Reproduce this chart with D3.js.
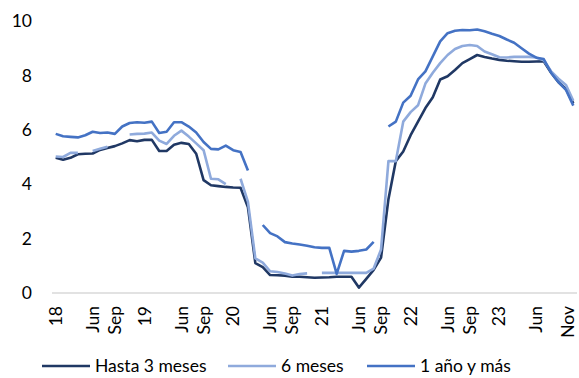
<!DOCTYPE html>
<html>
<head>
<meta charset="utf-8">
<script src="https://cdn.jsdelivr.net/npm/d3@7"></script>
<style>
  html, body { margin: 0; padding: 0; background: #fff; }
  svg { display: block; font-family: Lato, "Open Sans", sans-serif; }
</style>
</head>
<body>
<svg id="chart" width="579" height="378"></svg>
<script>
// Monthly categories, Jan 2018 – Nov 2023
const months = d3.timeMonth.range(new Date(2018, 0, 1), new Date(2023, 11, 1))
  .map(d3.timeFormat("%Y-%m"));

// Axis labels and the months they sit on
const tickMonths = ["2018-01","2018-06","2018-09","2019-01","2019-06","2019-09",
  "2020-01","2020-06","2020-09","2021-01","2021-06","2021-09",
  "2022-01","2022-06","2022-09","2023-01","2023-06","2023-11"];
const tickLabels = ["18","Jun","Sep","19","Jun","Sep","20","Jun","Sep",
  "21","Jun","Sep","22","Jun","Sep","23","Jun","Nov"];
const yTicks = [0, 2, 4, 6, 8, 10];

// Series (null = no data)
const hasta3 = [
  4.97,4.90,4.97,5.10,5.12,5.13,5.26,5.33,5.40,5.50,
  5.62,5.58,5.63,5.63,5.22,5.22,5.45,5.52,5.48,5.12,
  4.15,3.96,3.93,3.90,3.88,3.87,3.15,1.10,0.95,0.66,
  0.65,0.64,0.60,0.60,0.58,0.56,0.57,0.58,0.60,0.60,
  0.60,0.20,0.52,0.85,1.30,3.45,4.85,5.20,5.80,6.30,
  6.80,7.20,7.85,7.97,8.20,8.45,8.60,8.75,8.68,8.62,
  8.57,8.54,8.52,8.50,8.50,8.51,8.52,8.10,7.75,7.50,6.97];
const meses6 = [
  5.02,5.00,5.15,5.15,null,5.22,5.30,5.38,null,null,
  5.83,5.85,5.86,5.90,5.60,5.48,5.78,5.97,5.75,5.50,
  5.25,4.20,4.18,4.00,null,4.20,3.35,1.27,1.12,0.80,
  0.77,0.72,0.64,0.70,0.72,null,0.74,0.74,0.74,0.74,
  0.74,0.74,0.74,0.90,1.60,4.85,4.85,6.30,6.65,6.90,
  7.70,8.10,8.45,8.75,8.97,9.08,9.12,9.08,8.88,8.78,
  8.67,8.66,8.68,8.68,8.68,8.66,8.56,8.15,7.88,7.65,7.07];
const anio1 = [
  5.85,5.76,5.74,5.72,5.80,5.93,5.88,5.90,5.85,6.12,
  6.25,6.28,6.26,6.30,5.88,5.93,6.28,6.28,6.12,5.90,
  5.55,5.30,5.28,5.42,5.25,5.18,4.50,null,2.50,2.20,
  2.08,1.87,1.82,1.78,1.74,1.68,1.66,1.66,0.70,1.55,
  1.52,1.55,1.60,1.88,null,6.12,6.30,7.00,7.25,7.85,
  8.15,8.70,9.25,9.55,9.64,9.67,9.66,9.69,9.62,9.53,
  9.45,9.32,9.20,9.00,8.80,8.65,8.60,8.10,7.75,7.47,6.89];

const seriesNames = ["Hasta 3 meses", "6 meses", "1 año y más"];
const seriesColors = ["#203864", "#8FAADC", "#4472C4"];
const seriesData = [hasta3, meses6, anio1];

const W = 579;
const svg = d3.select("#chart");
const plotLeft = 52, plotRight = 577, plotTop = 21, plotBottom = 293;

const x = d3.scaleBand().domain(months).range([plotLeft, plotRight]).padding(0);
const y = d3.scaleLinear().domain([0, 10]).range([plotBottom, plotTop]);
const cx = m => x(m) + x.bandwidth() / 2;

// Y tick labels
svg.append("g").selectAll("text").data(yTicks).join("text")
  .attr("x", 32).attr("y", d => y(d))
  .attr("dy", "0.35em")
  .attr("text-anchor", "end")
  .attr("font-size", 17.5)
  .attr("fill", "#000")
  .text(d => d);

// Baseline
svg.append("line")
  .attr("x1", plotLeft).attr("x2", plotRight)
  .attr("y1", y(0)).attr("y2", y(0))
  .attr("stroke", "#D9D9D9").attr("stroke-width", 1.5);

// X tick labels, rotated; kept inside the right edge of the canvas
svg.append("g").selectAll("text").data(tickMonths).join("text")
  .attr("transform", m => `translate(${Math.min(cx(m), W - 11)},${306}) rotate(-90)`)
  .attr("dy", "0.35em")
  .attr("text-anchor", "end")
  .attr("font-size", 17.5)
  .attr("fill", "#000")
  .text((m, i) => tickLabels[i]);

// Series lines
const line = d3.line()
  .defined(d => d.v != null)
  .x(d => cx(d.m))
  .y(d => y(d.v));

seriesData.forEach((vals, s) => {
  svg.append("path")
    .datum(vals.map((v, i) => ({ m: months[i], v })))
    .attr("fill", "none")
    .attr("stroke", seriesColors[s])
    .attr("stroke-width", 2.6)
    .attr("stroke-linejoin", "round")
    .attr("d", line);
});

// Legend
const legendX = [42, 228, 367];
const lg = svg.append("g");
seriesNames.forEach((name, i) => {
  lg.append("line")
    .attr("x1", legendX[i]).attr("x2", legendX[i] + 48)
    .attr("y1", 366).attr("y2", 366)
    .attr("stroke", seriesColors[i]).attr("stroke-width", 2.6);
  lg.append("text")
    .attr("x", legendX[i] + 53).attr("y", 366)
    .attr("dy", "0.35em")
    .attr("font-size", 17.5)
    .attr("fill", "#000")
    .text(name);
});
</script>
</body>
</html>
